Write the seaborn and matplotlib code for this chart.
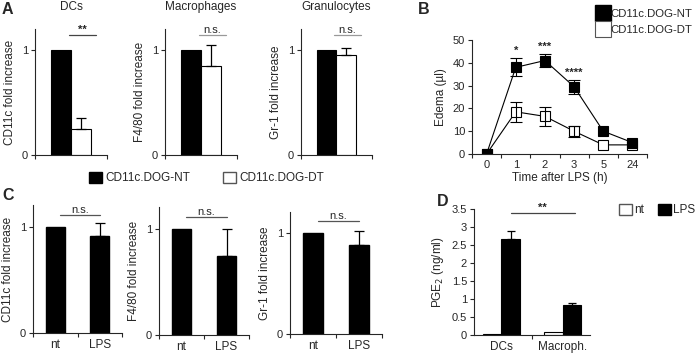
import numpy as np
import pandas as pd
import matplotlib
matplotlib.use("Agg")
import matplotlib.pyplot as plt
import matplotlib.patches as mpatches
from matplotlib.lines import Line2D
import seaborn as sns

sns.set_style("ticks")
plt.rcParams["font.family"] = ["Liberation Sans", "DejaVu Sans"]
plt.rcParams["font.size"] = 8
plt.rcParams["axes.linewidth"] = 0.8

# ── Données ────────────────────────────────────────────────────────────────
# A : fold increase (NT = 1), DT avec erreur
a_cells = ["DCs", "Macrophages", "Granulocytes"]
a_ylabels = ["CD11c fold increase", "F4/80 fold increase", "Gr-1 fold increase"]
a_nt = [1.0, 1.0, 1.0]
a_dt = [0.25, 0.85, 0.95]
a_dt_err = [0.10, 0.20, 0.07]
a_sig = ["**", "n.s.", "n.s."]

# B : oedème après LPS
b_times = ["0", "1", "2", "3", "5", "24"]
b_nt = [0, 38, 41, 29.5, 10, 5]
b_nt_err = [0, 4, 3, 3, 0, 0]
b_dt = [0, 18.5, 16.5, 10, 4, 4]
b_dt_err = [0, 4.5, 4, 2.5, 0, 0]
b_stars = ["", "*", "***", "****", "", ""]

# C : nt vs LPS
c_groups = ["nt", "LPS"]
c_ylabels = ["CD11c fold increase", "F4/80 fold increase", "Gr-1 fold increase"]
c_lps = [0.92, 0.75, 0.88]
c_lps_err = [0.12, 0.25, 0.14]

# D : PGE2
d_cells = ["DCs", "Macroph."]
d_nt = [0.02, 0.08]
d_lps = [2.68, 0.82]
d_lps_err = [0.22, 0.07]

W, H = 700, 354
fig = plt.figure(figsize=(W / 100, H / 100), dpi=100)


def add_ax(l, t, r, b):
    return fig.add_axes([l / W, 1 - b / H, (r - l) / W, (b - t) / H])


def style(ax):
    sns.despine(ax=ax)
    ax.tick_params(axis="both", length=3, width=0.8, pad=2, labelsize=8)
    ax.set_xlabel("")


def sig_bar(ax, x0, x1, y, txt, color="#555555"):
    ax.plot([x0, x1], [y, y], color=color, lw=0.9, clip_on=False)
    ax.text((x0 + x1) / 2, y, txt, ha="center", va="bottom", fontsize=8,
            clip_on=False, fontweight="bold" if "*" in txt else "normal")


# ── A ──────────────────────────────────────────────────────────────────────
a_boxes = [(35, 29, 107, 155), (165, 29, 237, 155), (301, 29, 372, 155)]
for i, box in enumerate(a_boxes):
    ax = add_ax(*box)
    df = pd.DataFrame({"cell": [a_cells[i]] * 2, "group": ["NT", "DT"],
                       "value": [a_nt[i], a_dt[i]]})
    sns.barplot(df, x="cell", y="value", hue="group",
                palette={"NT": "black", "DT": "white"}, edgecolor="black",
                linewidth=0.8, width=0.8, errorbar=None, legend=False, ax=ax)
    p = ax.patches[1]
    xc = p.get_x() + p.get_width() / 2
    ax.errorbar([xc], [a_dt[i]], yerr=[[0], [a_dt_err[i]]], fmt="none",
                ecolor="black", elinewidth=0.9, capsize=3.5, capthick=0.9)
    ax.set_ylim(0, 1.2)
    ax.set_yticks([0, 1])
    ax.set_yticklabels(["0", "1"])
    ax.set_xlim(-0.72, 0.72)
    ax.set_xticks([-0.72, 0.72])
    ax.set_xticklabels([])
    ax.set_ylabel(a_ylabels[i], fontsize=8.5, labelpad=4)
    ax.set_title(a_cells[i], fontsize=8.5, pad=14)
    style(ax)
    sig_bar(ax, -0.05, 0.5, 1.14, a_sig[i],
            color="#444444" if i == 0 else "#999999")

fig.legend(handles=[mpatches.Patch(facecolor="black", edgecolor="black", label="CD11c.DOG-NT"),
                    mpatches.Patch(facecolor="white", edgecolor="#555555", label="CD11c.DOG-DT")],
           loc="center left", bbox_to_anchor=(78 / W, 1 - 178 / H), ncol=2,
           frameon=False, fontsize=8.5, handlelength=1.1, handleheight=1.1,
           handletextpad=0.3, columnspacing=2.8)

# ── B ──────────────────────────────────────────────────────────────────────
ax = add_ax(472, 40, 647, 154)
sns.pointplot(x=b_times, y=b_dt, color="black", markers="s", linewidth=0.8,
              markersize=7.5, markerfacecolor="white", markeredgewidth=0.8,
              errorbar=None, ax=ax)
sns.pointplot(x=b_times, y=b_nt, color="black", markers="s", linewidth=0.8,
              markersize=7.5, markeredgewidth=0.8, errorbar=None, ax=ax)
pos = np.arange(len(b_times))
for vals, errs in [(b_nt, b_nt_err), (b_dt, b_dt_err)]:
    m = np.array(errs) > 0
    ax.errorbar(pos[m], np.array(vals)[m], yerr=np.array(errs)[m], fmt="none",
                ecolor="black", elinewidth=0.8, capsize=4.5, capthick=0.8, zorder=5)
for xi, s in enumerate(b_stars):
    if s:
        ax.text(xi, b_nt[xi] + b_nt_err[xi] + 1, s, ha="center", va="bottom",
                fontsize=8, fontweight="bold")
ax.set_ylim(0, 50)
ax.set_yticks([0, 10, 20, 30, 40, 50])
ax.set_xlim(-0.5, 5.5)
ax.set_xticks(pos)
ax.set_xticklabels(b_times)
ax.set_xticks(np.arange(-0.5, 6, 1), minor=True)
style(ax)
ax.tick_params(axis="x", which="major", length=0, pad=4)
ax.tick_params(axis="x", which="minor", length=3, width=0.8)
ax.set_ylabel("Edema (µl)", fontsize=8.5, labelpad=4)
ax.set_xlabel("Time after LPS (h)", fontsize=8.5, labelpad=2)

fig.legend(handles=[Line2D([], [], marker="s", ls="none", mfc="black", mec="black",
                           markersize=11, label="CD11c.DOG-NT"),
                    Line2D([], [], marker="s", ls="none", mfc="white", mec="#555555",
                           markersize=11, mew=0.8, label="CD11c.DOG-DT")],
           loc="upper left", bbox_to_anchor=(597 / W, 1 - 9 / H), frameon=False,
           fontsize=8.2, handlelength=1.0, handletextpad=0.2, labelspacing=0.55,
           borderpad=0, borderaxespad=0)

# ── C ──────────────────────────────────────────────────────────────────────
c_boxes = [(33, 205, 122, 333), (159, 207, 249, 335), (290, 212, 382, 334)]
for i, box in enumerate(c_boxes):
    ax = add_ax(*box)
    df = pd.DataFrame({"group": c_groups, "value": [1.0, c_lps[i]]})
    sns.barplot(df, x="group", y="value", color="black", edgecolor="black",
                width=0.43, errorbar=None, ax=ax)
    p = ax.patches[1]
    xc = p.get_x() + p.get_width() / 2
    ax.errorbar([xc], [c_lps[i]], yerr=[[0], [c_lps_err[i]]], fmt="none",
                ecolor="black", elinewidth=0.9, capsize=3.5, capthick=0.9)
    ax.set_ylim(0, 1.21)
    ax.set_yticks([0, 1])
    ax.set_yticklabels(["0", "1"])
    ax.set_xlim(-0.5, 1.5)
    ax.set_xticks([-0.5, 0.5, 1.5], minor=True)
    style(ax)
    ax.tick_params(axis="x", which="major", length=0, labelsize=8.5, pad=4)
    ax.tick_params(axis="x", which="minor", length=3, width=0.8)
    ax.set_ylabel(c_ylabels[i], fontsize=8.5, labelpad=4)
    sig_bar(ax, 0.1, 1.0, 1.12, "n.s.", color="#555555")

# ── D ──────────────────────────────────────────────────────────────────────
ax = add_ax(474, 209, 590, 335)
df = pd.DataFrame({"cell": d_cells * 2, "cond": ["nt"] * 2 + ["LPS"] * 2,
                   "pge2": d_nt + d_lps})
sns.barplot(df, x="cell", y="pge2", hue="cond", hue_order=["nt", "LPS"],
            palette={"nt": "white", "LPS": "black"}, edgecolor="black",
            linewidth=0.8, width=0.6, errorbar=None, legend=False, ax=ax)
lps_bars = ax.patches[2:4]
for p, v, e in zip(lps_bars, d_lps, d_lps_err):
    ax.errorbar([p.get_x() + p.get_width() / 2], [v], yerr=[[0], [e]], fmt="none",
                ecolor="black", elinewidth=0.9, capsize=3, capthick=0.9)
ax.set_ylim(0, 3.5)
ax.set_yticks(np.arange(0, 3.6, 0.5))
ax.set_yticklabels(["0", "0.5", "1", "1.5", "2", "2.5", "3", "3.5"])
ax.set_xlim(-0.45, 1.45)
ax.set_xticks([0.5], minor=True)
style(ax)
ax.tick_params(axis="x", which="major", length=0, labelsize=8.5, pad=4)
ax.tick_params(axis="x", which="minor", length=3, width=0.8)
ax.set_ylabel("PGE$_2$ (ng/ml)", fontsize=8.5, labelpad=4)
sig_bar(ax, 0.15, 1.2, 3.38, "**", color="#444444")

fig.legend(handles=[mpatches.Patch(facecolor="white", edgecolor="#555555", label="nt"),
                    mpatches.Patch(facecolor="black", edgecolor="black", label="LPS")],
           loc="center left", bbox_to_anchor=(608 / W, 1 - 210 / H), ncol=2,
           frameon=False, fontsize=8.5, handlelength=1.1, handleheight=1.1,
           handletextpad=0.2, columnspacing=1.2)

# ── Lettres de panneaux ───────────────────────────────────────────────────
for letter, (px, py) in {"A": (2, 9), "B": (418, 9), "C": (2, 196), "D": (437, 201)}.items():
    fig.text(px / W, 1 - py / H, letter, fontsize=11.5, fontweight="bold",
             ha="left", va="center")

fig.savefig("out.png", dpi=100)
